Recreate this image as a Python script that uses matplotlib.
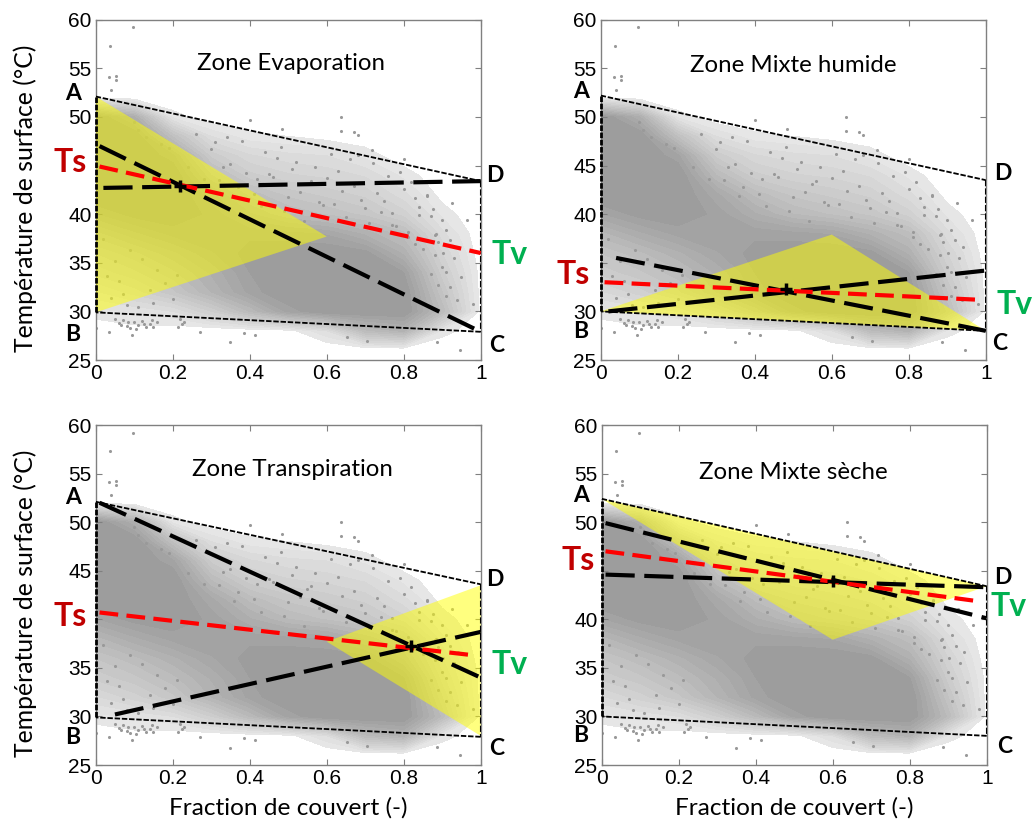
import numpy as np
import matplotlib
matplotlib.use('Agg')
import matplotlib.pyplot as plt
from matplotlib.colors import LinearSegmentedColormap

plt.rcParams['font.family'] = ['Liberation Sans', 'DejaVu Sans']

# cloud density (0 = empty, 1 = solid grey)
density_fv = [0, 0.1, 0.2, 0.3, 0.4, 0.5, 0.6, 0.7, 0.8, 0.9, 1]
density_ts = [26, 28, 30, 32, 34, 36, 38, 40, 42, 44, 46, 48, 50, 52, 54]
density = [
    [0, 0, 0, 0, 0, 0, 0, 0, 0, 0, 0],
    [0.02, 0.05, 0.03, 0.02, 0.03, 0.05, 0.2, 0.6, 0.7, 0.12, 0.01],
    [0.12, 0.15, 0.2, 0.38, 0.62, 0.88, 1, 1, 1, 0.6, 0.05],
    [0.25, 0.35, 0.48, 0.68, 0.88, 1, 1, 1, 1, 0.5, 0.05],
    [0.4, 0.48, 0.6, 0.75, 0.92, 1, 1, 1, 0.92, 0.4, 0.05],
    [0.5, 0.6, 0.72, 0.85, 0.95, 0.98, 0.98, 0.95, 0.72, 0.32, 0.03],
    [0.65, 0.78, 0.88, 0.92, 0.9, 0.88, 0.85, 0.72, 0.58, 0.22, 0.02],
    [0.85, 0.95, 0.98, 0.9, 0.75, 0.62, 0.55, 0.48, 0.35, 0.12, 0.01],
    [1, 1, 1, 0.82, 0.6, 0.48, 0.42, 0.36, 0.22, 0.05, 0],
    [1, 1, 1, 0.62, 0.4, 0.33, 0.3, 0.25, 0.12, 0.02, 0],
    [1, 1, 0.88, 0.42, 0.27, 0.22, 0.2, 0.12, 0.03, 0, 0],
    [1, 1, 0.55, 0.2, 0.1, 0.08, 0.05, 0.03, 0, 0, 0],
    [1, 0.75, 0.12, 0.02, 0.02, 0.02, 0, 0, 0, 0, 0],
    [0.05, 0.02, 0, 0, 0, 0, 0, 0, 0, 0, 0],
    [0, 0, 0, 0, 0, 0, 0, 0, 0, 0, 0],
]
density_levels = [0.08, 0.14, 0.2, 0.26, 0.32, 0.38, 0.44, 0.5, 0.56, 0.62, 0.68, 0.74, 0.8, 0.86, 0.92, 1.01]

# single points that can be told apart
points_fv = [0.096, 0.037, 0.035, 0.054, 0.052, 0.04, 0.636, 0.636, 0.67, 0.68, 0.4, 0.484, 0.8, 0.717,
             0.925, 0.965, 0.946, 0.35, 0.886, 0.704, 0.652, 0.27, 0.414, 0.384, 0.094, 0.035, 0.0,
             0.05, 0.06, 0.07, 0.08, 0.09, 0.1, 0.11, 0.12, 0.13, 0.14, 0.15, 0.16, 0.065, 0.085, 0.105, 0.125,
             0.145, 0.22, 0.225, 0.23, 0.215, 0.9, 0.92, 0.938, 0.98, 0.903, 0.91, 0.93, 0.95, 0.885, 0.875,
             0.1, 0.11, 0.13, 0.17, 0.19, 0.24, 0.26, 0.28, 0.31, 0.33, 0.36, 0.38, 0.42, 0.45, 0.47, 0.5,
             0.52, 0.55, 0.57, 0.59, 0.61, 0.64, 0.66, 0.69, 0.72, 0.74, 0.76, 0.78, 0.82, 0.84, 0.86, 0.88,
             0.3, 0.32, 0.35, 0.37, 0.34, 0.39, 0.41, 0.44, 0.46, 0.43, 0.48, 0.51, 0.53, 0.49, 0.56, 0.58,
             0.54, 0.6, 0.62, 0.65, 0.63, 0.67, 0.7, 0.68, 0.73, 0.71, 0.75, 0.77, 0.79, 0.81, 0.83, 0.85,
             0.87, 0.89, 0.91, 0.9, 0.88, 0.86, 0.92, 0.89, 0.94, 0.91, 0.87, 0.84, 0.8, 0.83, 0.77, 0.81,
             0.02, 0.03, 0.05, 0.07, 0.09, 0.04, 0.06, 0.08, 0.12, 0.14, 0.11, 0.16, 0.18, 0.15, 0.21, 0.2]
points_ts = [59.2, 57.3, 54.1, 54.2, 53.8, 52.8, 50, 48.6, 48.5, 48.1, 49.7, 48.8, 45.7, 46.6,
             41.1, 39.4, 26, 26.8, 26.9, 27, 27.4, 27.9, 27.6, 27.8, 27.6, 27.9, 28.3,
             29.2, 28.8, 29.1, 28.5, 28.3, 28.9, 28.6, 29, 28.4, 28.7, 28.4, 28.9, 28.6, 28.9, 28.2, 28.7,
             29.1, 29.2, 28.7, 28.9, 28.4, 39.4, 32.5, 31.2, 30.8, 36, 34, 35.5, 33.5, 38, 40.5,
             49.5, 48.7, 47.9, 47.2, 46.8, 44.8, 48.2, 43.6, 47.4, 44.9, 41.9, 47.5, 43.6, 44.1, 45.8, 41.8,
             45.4, 43.1, 44.8, 40.9, 46.2, 42.4, 45.7, 41.5, 45.3, 40.2, 43.9, 38.8, 43.3, 39.9, 42, 37.9,
             46.7, 43.5, 45.2, 42.8, 47.9, 44.2, 42.1, 46.4, 43.8, 40.8, 46.9, 44.6, 42.3, 40.3, 43.4, 41.2,
             39.3, 43.7, 41, 39.7, 44.4, 42.9, 40.6, 46.1, 42.2, 39.1, 41.4, 38.9, 44.3, 37.6, 41.7, 36.4,
             39.8, 37.1, 38.4, 34.6, 35.8, 41.9, 37.3, 32.7, 36.6, 31.6, 33.8, 40.7, 42.6, 36.9, 40.1, 38.2,
             37.4, 33.6, 35.2, 31.8, 36.3, 31.4, 33.1, 30.7, 35.4, 32.2, 30.4, 34.3, 32.9, 30.9, 33.7, 31.3]

# frame corners of each panel, A D C B
frame_fv = [0, 1, 1, 0]
frame_ts = [[52.1, 43.4, 27.9, 29.9],
            [52.2, 43.5, 28.0, 30.0],
            [52.1, 43.6, 27.9, 29.9],
            [52.4, 43.4, 28.0, 30.0]]

zone_fv = [[0, 0, 0.6], [0, 0.6, 1], [1, 1, 0.6], [0, 1, 0.6]]
zone_ts = [[52.1, 29.9, 37.7], [30, 37.9, 28], [43.5, 28, 37.7], [52.4, 43.4, 37.9]]

black1_fv = [[0.01, 1], [0.04, 1], [0.01, 1], [0.01, 1]]
black1_ts = [[47, 27.9], [35.5, 28], [52, 34], [49.9, 40.1]]
black2_fv = [[0.02, 1], [0.02, 1], [0.05, 1], [0.01, 1]]
black2_ts = [[42.7, 43.4], [30, 34.2], [30.2, 38.7], [44.6, 43.3]]
red_fv = [[0.01, 1], [0.01, 0.98], [0.01, 0.98], [0.01, 0.97]]
red_ts = [[44.9, 36], [33, 31.2], [40.7, 36.3], [47, 41.9]]
cross_fv = [0.22, 0.48, 0.82, 0.6]
cross_ts = [42.9, 32.3, 37.2, 43.9]

titles = ['Zone Evaporation', 'Zone Mixte humide', 'Zone Transpiration', 'Zone Mixte sèche']
xticks = [0, 0.2, 0.4, 0.6, 0.8, 1]
xticklabels = ['0', '0.2', '0.4', '0.6', '0.8', '1']
yticks = [25, 30, 35, 40, 45, 50, 55, 60]
# the Ts label sits where one tick label would be
yticklabels = [['25', '30', '35', '40', '', '50', '55', '60'],
               ['25', '30', '', '40', '45', '50', '55', '60'],
               ['25', '30', '35', '', '45', '50', '55', '60'],
               ['25', '30', '35', '40', '', '50', '55', '60']]

W, H = 1035, 822
axes_px = [(95.7, 19.7, 480.7, 360), (600.7, 19.7, 985.7, 360),
           (95.7, 425, 480.7, 765), (601.7, 425, 986.7, 765)]
title_px = [(291, 64), (793, 66), (292, 469), (793, 472)]
letters_px = [{'A': (73, 93), 'B': (73, 334), 'C': (497, 345), 'D': (495, 176)},
              {'A': (581, 91), 'B': (581, 332), 'C': (1000, 343), 'D': (1003, 173)},
              {'A': (73, 497), 'B': (73, 737), 'C': (497, 748), 'D': (495, 579)},
              {'A': (581, 495), 'B': (581, 735), 'C': (1005, 746), 'D': (1003, 577)}]
ts_px = [(70, 163), (573, 274), (70, 616), (578, 561)]
tv_px = [(510, 255), (1015, 304), (510, 664), (1009, 606)]

cloud = LinearSegmentedColormap.from_list('cloud', ['#e8e8e8', '#999999'])


def put(px, py, s, **kw):
    fig.text(px / W, 1 - py / H, s, ha='center', va='center', family=['Lato', 'DejaVu Sans'], **kw)


fig = plt.figure(figsize=(W / 100, H / 100), dpi=100)

for i in range(4):
    x0, y0, x1, y1 = axes_px[i]
    ax = fig.add_axes([x0 / W, 1 - y1 / H, (x1 - x0) / W, (y1 - y0) / H])
    ax.contourf(density_fv, density_ts, density, levels=density_levels, cmap=cloud, zorder=1)
    ax.scatter(points_fv, points_ts, s=5, color='#999999', linewidths=0, zorder=2)
    ax.fill(zone_fv[i], zone_ts[i], color='#ffff00', alpha=0.5, lw=0, zorder=3)

    ax.plot(frame_fv[:2], frame_ts[i][:2], color='k', lw=1.3, ls=(0, (3, 1)), zorder=4)
    ax.plot(frame_fv[2:], frame_ts[i][2:], color='k', lw=1.3, ls=(0, (3, 1)), zorder=4)
    ax.plot([1, 1], frame_ts[i][1:3], color='k', lw=1.5, ls=(0, (3, 1)), zorder=4)
    ax.plot([0, 0], [frame_ts[i][3], frame_ts[i][0]], color='k', lw=2, ls=(0, (2, 0.6)), zorder=4, clip_on=False)

    ax.plot(black1_fv[i], black1_ts[i], color='k', lw=3, ls=(0, (7, 2.3)), zorder=5)
    ax.plot(black2_fv[i], black2_ts[i], color='k', lw=3, ls=(0, (7, 2.3)), zorder=5)
    ax.plot(red_fv[i], red_ts[i], color='#ff0000', lw=3, ls=(0, (4.5, 2)), zorder=6)
    ax.plot(cross_fv[i], cross_ts[i], marker='+', color='k', ms=9, mew=2.5, zorder=7)

    ax.set_xlim(0, 1)
    ax.set_ylim(25, 60)
    ax.set_xticks(xticks)
    ax.set_xticklabels(xticklabels)
    ax.set_yticks(yticks)
    ax.set_yticklabels(yticklabels[i])
    ax.tick_params(direction='in', top=True, right=True, length=4, width=0.8, color='#808080',
                   labelsize=15, pad=3)
    for s in ax.spines.values():
        s.set_color('#808080')
        s.set_linewidth(1)

    put(title_px[i][0], title_px[i][1], titles[i], fontsize=17.3)
    for name, (px, py) in letters_px[i].items():
        put(px, py, name, fontsize=16.5, fontweight='bold')
    put(ts_px[i][0], ts_px[i][1], 'Ts', fontsize=23, fontweight='bold', color='#c00000')
    put(tv_px[i][0], tv_px[i][1], 'Tv', fontsize=23, fontweight='bold', color='#00b050')

put(25, 198, 'Température de surface (°C)', fontsize=17.8, rotation=90)
put(25, 603, 'Température de surface (°C)', fontsize=17.8, rotation=90)
put(288, 808, 'Fraction de couvert (-)', fontsize=17.6)
put(794, 808, 'Fraction de couvert (-)', fontsize=17.6)

fig.savefig('out.png', dpi=100)
